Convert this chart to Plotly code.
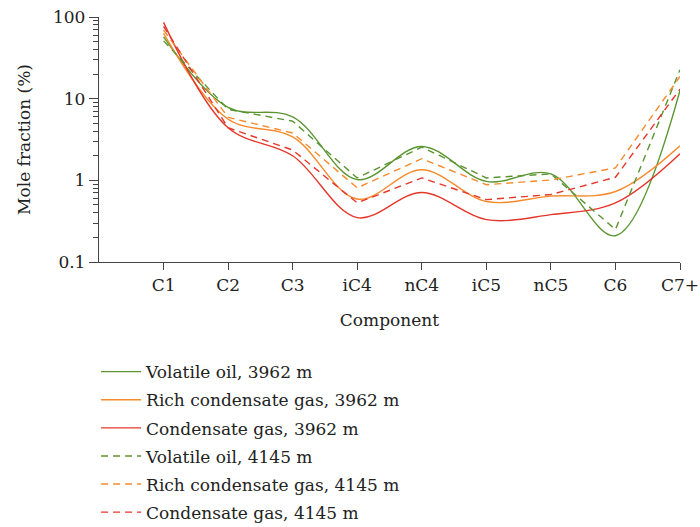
import plotly.graph_objects as go

# Hydrocarbon components along the x axis
components = ["C1", "C2", "C3", "iC4", "nC4", "iC5", "nC5", "C6", "C7+"]

# Mole fraction (%) of each component, per sample
volatile_oil_3962 = [57, 7.8, 6.0, 1.02, 2.6, 0.97, 1.2, 0.21, 12.6]
rich_condensate_3962 = [63, 5.6, 3.4, 0.59, 1.35, 0.55, 0.64, 0.73, 2.65]
condensate_3962 = [86, 4.4, 2.0, 0.35, 0.71, 0.33, 0.38, 0.53, 2.12]
volatile_oil_4145 = [51, 7.4, 5.3, 1.07, 2.55, 1.07, 1.2, 0.25, 22.6]
rich_condensate_4145 = [69, 5.9, 3.8, 0.81, 1.84, 0.885, 1.01, 1.42, 18.7]
condensate_4145 = [77, 4.4, 2.35, 0.53, 1.07, 0.58, 0.67, 1.09, 13.1]

GREEN = "#5a9530"
ORANGE = "#f68a2c"
RED = "#e5362a"
FONT = "DejaVu Serif"
FONT_SIZE = 17
TEXT_COLOR = "#222222"
AXIS_COLOR = "#444444"

x_pos = list(range(1, len(components) + 1))

series = [
    ("Volatile oil, 3962 m", volatile_oil_3962, GREEN, "solid", "spline"),
    ("Rich condensate gas, 3962 m", rich_condensate_3962, ORANGE, "solid", "spline"),
    ("Condensate gas, 3962 m", condensate_3962, RED, "solid", "spline"),
    ("Volatile oil, 4145 m", volatile_oil_4145, GREEN, "7px,5px", "linear"),
    ("Rich condensate gas, 4145 m", rich_condensate_4145, ORANGE, "7px,5px", "linear"),
    ("Condensate gas, 4145 m", condensate_4145, RED, "7px,5px", "linear"),
]

fig = go.Figure()
for i, (name, vals, color, dash, shape) in enumerate(series):
    fig.add_trace(go.Scatter(
        x=x_pos, y=vals, name=name, mode="lines", legendgroup=f"g{i}",
        line=dict(color=color, width=1.4, dash=dash, shape=shape, smoothing=1.0),
    ))

text_font = dict(family=FONT, size=FONT_SIZE, color=TEXT_COLOR)

fig.update_layout(
    width=700, height=527,
    margin=dict(l=99, r=20, t=17, b=265, autoexpand=False),
    paper_bgcolor="white", plot_bgcolor="white",
    font=text_font,
    showlegend=True,
    legend=dict(
        x=-0.005, xanchor="left", y=-0.376, yanchor="top",
        font=text_font, bgcolor="rgba(0,0,0,0)",
        itemwidth=40, tracegroupgap=3,
    ),
)

fig.update_xaxes(
    range=[0, 9], tickvals=x_pos, ticktext=components,
    showline=True, linecolor=AXIS_COLOR, linewidth=1.3,
    ticks="outside", ticklen=7, tickcolor=AXIS_COLOR, tickwidth=1.3,
    showgrid=False, zeroline=False,
    tickfont=text_font,
    title=dict(text="Component", font=text_font, standoff=20),
)

fig.update_yaxes(
    type="log", range=[-1, 2],
    tickvals=[0.1, 1, 10, 100], ticktext=["0.1", "1", "10", "100"],
    showline=True, linecolor=AXIS_COLOR, linewidth=1.3,
    ticks="outside", ticklen=9, tickcolor=AXIS_COLOR, tickwidth=1.3,
    minor=dict(ticks="outside", ticklen=5, dtick="D1", tickcolor=AXIS_COLOR, tickwidth=1, showgrid=False),
    showgrid=False, zeroline=False,
    tickfont=text_font,
    title=dict(text="Mole fraction (%)", font=text_font, standoff=18),
)

fig.write_html("out.html")
